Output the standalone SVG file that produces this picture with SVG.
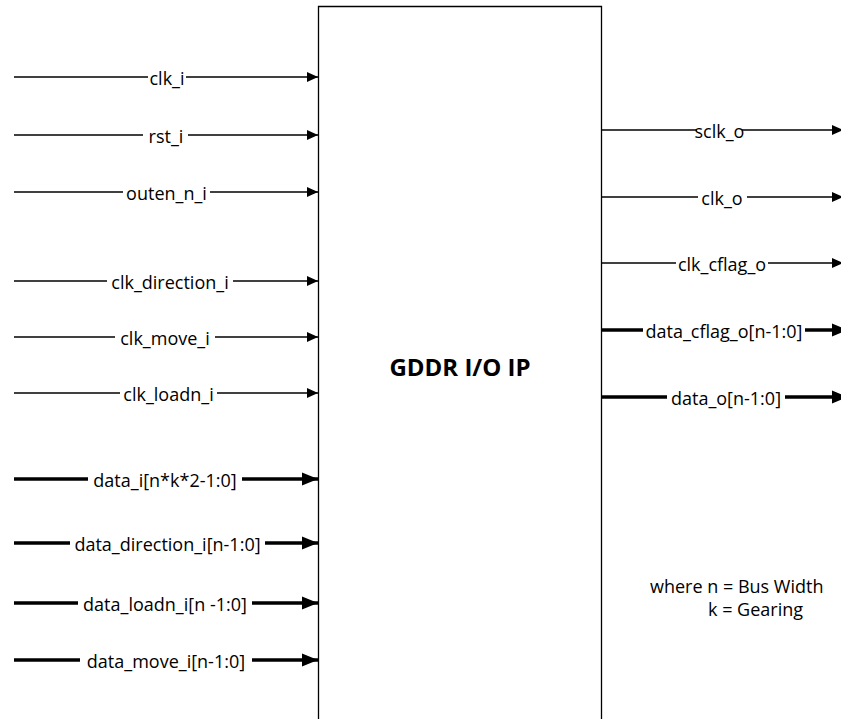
<svg xmlns="http://www.w3.org/2000/svg" width="841" height="719" viewBox="0 0 841 719">
<style>
  text { font-family: "Open Sans", "Liberation Sans", sans-serif; fill: #000; }
  .lbl { font-size: 18px; text-anchor: middle; }
  .thin { stroke: #000; stroke-width: 1.3; fill: none; }
  .thick { stroke: #000; stroke-width: 3.5; fill: none; }
  .bg { fill: #fff; stroke: none; }
  .title { font-size: 24px; font-weight: bold; text-anchor: middle; }
  .note { font-size: 18px; }
</style>
<defs>
  <marker id="arrThin" markerUnits="userSpaceOnUse" markerWidth="12" markerHeight="11" refX="11" refY="5" orient="auto" overflow="visible">
    <path d="M0,0 L11,5 L0,10 z" fill="#000"/>
  </marker>
  <marker id="arrThick" markerUnits="userSpaceOnUse" markerWidth="17" markerHeight="14" refX="16" refY="6.5" orient="auto" overflow="visible">
    <path d="M0,0 L16,6.5 L0,13 z" fill="#000"/>
  </marker>
</defs>
<rect width="841" height="719" fill="#fff"/>

<g id="gddr_io_ip">
  <path d="M318.5,730 V6.5 H601.5 V730" fill="none" stroke="#000" stroke-width="1.3"/>
  <text class="title" x="460" y="376">GDDR I/O IP</text>
</g>

<g id="connectors">
  <g id="clk_i">
    <path class="thin" d="M14,77 H318" marker-end="url(#arrThin)"/>
    <rect class="bg" x="148" y="72" width="38" height="10"/>
    <text class="lbl" x="167" y="84.5">clk_i</text>
  </g>
  <g id="rst_i">
    <path class="thin" d="M14,135 H318" marker-end="url(#arrThin)"/>
    <rect class="bg" x="143" y="130" width="45" height="10"/>
    <text class="lbl" x="166" y="142.5">rst_i</text>
  </g>
  <g id="outen_n_i">
    <path class="thin" d="M14,192 H318" marker-end="url(#arrThin)"/>
    <rect class="bg" x="123" y="187" width="87" height="10"/>
    <text class="lbl" x="166.5" y="199.5">outen_n_i</text>
  </g>
  <g id="clk_direction_i">
    <path class="thin" d="M14,281 H318" marker-end="url(#arrThin)"/>
    <rect class="bg" x="107" y="276" width="126" height="10"/>
    <text class="lbl" x="170" y="288.5">clk_direction_i</text>
  </g>
  <g id="clk_move_i">
    <path class="thin" d="M14,337 H318" marker-end="url(#arrThin)"/>
    <rect class="bg" x="115" y="332" width="100" height="10"/>
    <text class="lbl" x="165" y="344.5">clk_move_i</text>
  </g>
  <g id="clk_loadn_i">
    <path class="thin" d="M14,393 H318" marker-end="url(#arrThin)"/>
    <rect class="bg" x="120" y="388" width="97" height="10"/>
    <text class="lbl" x="168.5" y="400.5">clk_loadn_i</text>
  </g>
  <g id="data_i">
    <path class="thick" d="M14,479 H318" marker-end="url(#arrThick)"/>
    <rect class="bg" x="88" y="473" width="154" height="12"/>
    <text class="lbl" x="165" y="486.5">data_i[n*k*2-1:0]</text>
  </g>
  <g id="data_direction_i">
    <path class="thick" d="M14,543 H318" marker-end="url(#arrThick)"/>
    <rect class="bg" x="70" y="537" width="195" height="12"/>
    <text class="lbl" x="167.5" y="550.5">data_direction_i[n-1:0]</text>
  </g>
  <g id="data_loadn_i">
    <path class="thick" d="M14,603 H318" marker-end="url(#arrThick)"/>
    <rect class="bg" x="78" y="597" width="174" height="12"/>
    <text class="lbl" x="165" y="610.5">data_loadn_i[n -1:0]</text>
  </g>
  <g id="data_move_i">
    <path class="thick" d="M14,660 H318" marker-end="url(#arrThick)"/>
    <rect class="bg" x="80" y="654" width="172" height="12"/>
    <text class="lbl" x="166" y="667.5">data_move_i[n-1:0]</text>
  </g>

  <g id="sclk_o">
    <path class="thin" d="M602,130 H843" marker-end="url(#arrThin)"/>
    <rect class="bg" x="697" y="125" width="45" height="10"/>
    <text class="lbl" x="719.5" y="137.5">sclk_o</text>
  </g>
  <g id="clk_o">
    <path class="thin" d="M602,197 H843" marker-end="url(#arrThin)"/>
    <rect class="bg" x="698" y="192" width="49" height="10"/>
    <text class="lbl" x="722" y="204.5">clk_o</text>
  </g>
  <g id="clk_cflag_o">
    <path class="thin" d="M602,263 H843" marker-end="url(#arrThin)"/>
    <rect class="bg" x="676" y="258" width="92" height="10"/>
    <text class="lbl" x="722" y="270.5">clk_cflag_o</text>
  </g>
  <g id="data_cflag_o">
    <path class="thick" d="M602,330 H848" marker-end="url(#arrThick)"/>
    <rect class="bg" x="643" y="324" width="162" height="12"/>
    <text class="lbl" x="724" y="337.5">data_cflag_o[n-1:0]</text>
  </g>
  <g id="data_o">
    <path class="thick" d="M602,397 H848" marker-end="url(#arrThick)"/>
    <rect class="bg" x="667" y="391" width="118" height="12"/>
    <text class="lbl" x="726" y="404.5">data_o[n-1:0]</text>
  </g>
</g>

<g id="note">
  <text class="note" x="650" y="593">where n = Bus Width</text>
  <text class="note" x="708" y="616">k = Gearing</text>
</g>
</svg>
